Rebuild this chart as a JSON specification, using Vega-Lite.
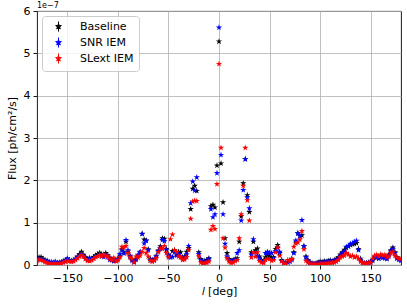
{
"$schema": "https://vega.github.io/schema/vega-lite/v6.json",
"autosize": {"type": "none"},
"padding": {"left": 37, "top": 11, "right": 6, "bottom": 40},
"width": 364,
"height": 254,
"background": "white",
"title": {"text": "1e−7", "anchor": "start", "frame": "group", "align": "left", "fontSize": 8, "fontWeight": "normal", "font": "DejaVu Sans", "offset": 0, "dy": 5, "color": "black"},
"data": {"values": [
{"l":-180,"k":0.14,"s":0.12,"r":0.10},{"l":-178,"k":0.18,"s":0.15,"r":0.13},{"l":-176,"k":0.19,"s":0.14,"r":0.12},{"l":-174,"k":0.15,"s":0.12,"r":0.10},{"l":-172,"k":0.11,"s":0.09,"r":0.07},{"l":-170,"k":0.09,"s":0.10,"r":0.05},{"l":-168,"k":0.07,"s":0.06,"r":0.04},{"l":-166,"k":0.05,"s":0.07,"r":0.03},{"l":-164,"k":0.05,"s":0.05,"r":0.03},{"l":-162,"k":0.06,"s":0.08,"r":0.04},{"l":-160,"k":0.05,"s":0.04,"r":0.03},{"l":-158,"k":0.06,"s":0.05,"r":0.03},{"l":-156,"k":0.07,"s":0.06,"r":0.04},{"l":-154,"k":0.09,"s":0.08,"r":0.06},{"l":-152,"k":0.11,"s":0.10,"r":0.08},{"l":-150,"k":0.13,"s":0.16,"r":0.10},{"l":-148,"k":0.12,"s":0.10,"r":0.09},{"l":-146,"k":0.10,"s":0.09,"r":0.08},{"l":-144,"k":0.11,"s":0.10,"r":0.09},{"l":-142,"k":0.15,"s":0.14,"r":0.12},{"l":-140,"k":0.20,"s":0.18,"r":0.16},{"l":-138,"k":0.26,"s":0.22,"r":0.20},{"l":-136,"k":0.31,"s":0.26,"r":0.24},{"l":-134,"k":0.24,"s":0.21,"r":0.20},{"l":-132,"k":0.18,"s":0.15,"r":0.14},{"l":-130,"k":0.13,"s":0.12,"r":0.10},{"l":-128,"k":0.12,"s":0.17,"r":0.09},{"l":-126,"k":0.15,"s":0.13,"r":0.11},{"l":-124,"k":0.19,"s":0.16,"r":0.15},{"l":-122,"k":0.23,"s":0.20,"r":0.19},{"l":-120,"k":0.26,"s":0.22,"r":0.21},{"l":-118,"k":0.29,"s":0.25,"r":0.24},{"l":-116,"k":0.25,"s":0.21,"r":0.20},{"l":-114,"k":0.22,"s":0.19,"r":0.25},{"l":-112,"k":0.28,"s":0.24,"r":0.22},{"l":-110,"k":0.23,"s":0.19,"r":0.21},{"l":-108,"k":0.17,"s":0.12,"r":0.15},{"l":-106,"k":0.13,"s":0.12,"r":0.11},{"l":-104,"k":0.10,"s":0.09,"r":0.17},{"l":-102,"k":0.11,"s":0.10,"r":0.09},{"l":-100,"k":0.15,"s":0.14,"r":0.11},{"l":-98,"k":0.22,"s":0.26,"r":0.18},{"l":-96,"k":0.38,"s":0.35,"r":0.43},{"l":-94,"k":0.30,"s":0.27,"r":0.41},{"l":-92,"k":0.55,"s":0.59,"r":0.45},{"l":-90,"k":0.32,"s":0.35,"r":0.28},{"l":-88,"k":0.22,"s":0.20,"r":0.18},{"l":-86,"k":0.12,"s":0.10,"r":0.15},{"l":-84,"k":0.08,"s":0.07,"r":0.06},{"l":-82,"k":0.14,"s":0.13,"r":0.20},{"l":-80,"k":0.22,"s":0.24,"r":0.17},{"l":-78,"k":0.30,"s":0.31,"r":0.22},{"l":-76,"k":0.74,"s":0.73,"r":0.31},{"l":-74,"k":0.60,"s":0.51,"r":0.40},{"l":-72,"k":0.58,"s":0.57,"r":0.28},{"l":-70,"k":0.37,"s":0.35,"r":0.20},{"l":-68,"k":0.15,"s":0.12,"r":0.10},{"l":-66,"k":0.10,"s":0.12,"r":0.08},{"l":-64,"k":0.14,"s":0.12,"r":0.10},{"l":-62,"k":0.22,"s":0.20,"r":0.16},{"l":-60,"k":0.34,"s":0.33,"r":0.30},{"l":-58,"k":0.44,"s":0.40,"r":0.39},{"l":-56,"k":0.63,"s":0.59,"r":0.38},{"l":-54,"k":0.62,"s":0.56,"r":0.45},{"l":-52,"k":0.38,"s":0.35,"r":0.28},{"l":-50,"k":0.25,"s":0.22,"r":0.18},{"l":-48,"k":0.20,"s":0.18,"r":0.61},{"l":-46,"k":0.33,"s":0.19,"r":0.72},{"l":-44,"k":0.35,"s":0.30,"r":0.35},{"l":-42,"k":0.25,"s":0.22,"r":0.30},{"l":-40,"k":0.31,"s":0.26,"r":0.20},{"l":-38,"k":0.30,"s":0.20,"r":0.18},{"l":-36,"k":0.18,"s":0.15,"r":0.12},{"l":-34,"k":0.20,"s":0.17,"r":0.13},{"l":-32,"k":0.31,"s":0.25,"r":0.18},{"l":-30,"k":0.40,"s":0.45,"r":0.35},{"l":-28,"k":1.32,"s":1.46,"r":1.09},{"l":-26,"k":1.80,"s":1.97,"r":1.50},{"l":-24,"k":1.87,"s":1.76,"r":1.52},{"l":-22,"k":1.75,"s":2.07,"r":1.51},{"l":-20,"k":0.30,"s":0.26,"r":0.20},{"l":-18,"k":0.14,"s":0.12,"r":0.06},{"l":-16,"k":0.08,"s":0.06,"r":0.03},{"l":-14,"k":0.10,"s":0.08,"r":0.04},{"l":-12,"k":0.12,"s":0.09,"r":0.05},{"l":-10,"k":0.16,"s":0.14,"r":0.08},{"l":-8,"k":1.39,"s":1.32,"r":0.83},{"l":-6,"k":1.42,"s":1.13,"r":0.92},{"l":-4,"k":1.36,"s":1.20,"r":0.85},{"l":-2,"k":2.35,"s":2.17,"r":1.91},{"l":0,"k":5.28,"s":5.61,"r":4.75},{"l":2,"k":2.40,"s":2.60,"r":2.77},{"l":4,"k":1.48,"s":1.20,"r":0.63},{"l":6,"k":0.63,"s":0.50,"r":0.41},{"l":8,"k":0.28,"s":0.20,"r":0.16},{"l":10,"k":0.14,"s":0.12,"r":0.08},{"l":12,"k":0.10,"s":0.08,"r":0.05},{"l":14,"k":0.12,"s":0.10,"r":0.06},{"l":16,"k":0.14,"s":0.13,"r":0.09},{"l":18,"k":0.16,"s":0.28,"r":0.12},{"l":20,"k":0.55,"s":0.35,"r":0.63},{"l":22,"k":1.15,"s":1.05,"r":1.20},{"l":24,"k":1.93,"s":1.77,"r":1.87},{"l":26,"k":2.50,"s":2.50,"r":2.77},{"l":28,"k":1.65,"s":1.60,"r":1.53},{"l":30,"k":1.25,"s":1.34,"r":1.05},{"l":32,"k":0.30,"s":0.25,"r":0.18},{"l":34,"k":0.55,"s":0.61,"r":0.30},{"l":36,"k":0.35,"s":0.30,"r":0.20},{"l":38,"k":0.39,"s":0.22,"r":0.30},{"l":40,"k":0.20,"s":0.16,"r":0.10},{"l":42,"k":0.12,"s":0.10,"r":0.06},{"l":44,"k":0.10,"s":0.08,"r":0.05},{"l":46,"k":0.18,"s":0.28,"r":0.12},{"l":48,"k":0.24,"s":0.31,"r":0.15},{"l":50,"k":0.20,"s":0.29,"r":0.14},{"l":52,"k":0.16,"s":0.28,"r":0.10},{"l":54,"k":0.18,"s":0.16,"r":0.12},{"l":56,"k":0.38,"s":0.33,"r":0.30},{"l":58,"k":0.47,"s":0.40,"r":0.42},{"l":60,"k":0.28,"s":0.31,"r":0.22},{"l":62,"k":0.12,"s":0.10,"r":0.09},{"l":64,"k":0.06,"s":0.05,"r":0.04},{"l":66,"k":0.05,"s":0.04,"r":0.03},{"l":68,"k":0.07,"s":0.06,"r":0.12},{"l":70,"k":0.10,"s":0.08,"r":0.10},{"l":72,"k":0.15,"s":0.12,"r":0.14},{"l":74,"k":0.30,"s":0.28,"r":0.43},{"l":76,"k":0.55,"s":0.58,"r":0.51},{"l":78,"k":0.75,"s":0.75,"r":0.53},{"l":80,"k":0.68,"s":0.69,"r":0.60},{"l":82,"k":0.70,"s":1.06,"r":0.80},{"l":84,"k":0.44,"s":0.45,"r":0.37},{"l":86,"k":0.20,"s":0.18,"r":0.10},{"l":88,"k":0.12,"s":0.10,"r":0.06},{"l":90,"k":0.06,"s":0.05,"r":0.03},{"l":92,"k":0.04,"s":0.03,"r":0.02},{"l":94,"k":0.03,"s":0.03,"r":0.02},{"l":96,"k":0.04,"s":0.03,"r":0.02},{"l":98,"k":0.06,"s":0.05,"r":0.02},{"l":100,"k":0.08,"s":0.06,"r":0.03},{"l":102,"k":0.07,"s":0.05,"r":0.02},{"l":104,"k":0.09,"s":0.07,"r":0.03},{"l":106,"k":0.08,"s":0.06,"r":0.03},{"l":108,"k":0.10,"s":0.08,"r":0.04},{"l":110,"k":0.11,"s":0.09,"r":0.04},{"l":112,"k":0.09,"s":0.07,"r":0.05},{"l":114,"k":0.12,"s":0.10,"r":0.06},{"l":116,"k":0.14,"s":0.11,"r":0.08},{"l":118,"k":0.18,"s":0.15,"r":0.12},{"l":120,"k":0.25,"s":0.22,"r":0.18},{"l":122,"k":0.30,"s":0.27,"r":0.20},{"l":124,"k":0.36,"s":0.32,"r":0.22},{"l":126,"k":0.41,"s":0.43,"r":0.28},{"l":128,"k":0.45,"s":0.44,"r":0.25},{"l":130,"k":0.47,"s":0.50,"r":0.20},{"l":132,"k":0.49,"s":0.51,"r":0.22},{"l":134,"k":0.50,"s":0.55,"r":0.18},{"l":136,"k":0.52,"s":0.57,"r":0.20},{"l":138,"k":0.38,"s":0.35,"r":0.15},{"l":140,"k":0.15,"s":0.12,"r":0.08},{"l":142,"k":0.06,"s":0.05,"r":0.04},{"l":144,"k":0.04,"s":0.04,"r":0.03},{"l":146,"k":0.05,"s":0.04,"r":0.03},{"l":148,"k":0.06,"s":0.05,"r":0.04},{"l":150,"k":0.08,"s":0.07,"r":0.05},{"l":152,"k":0.12,"s":0.10,"r":0.15},{"l":154,"k":0.18,"s":0.20,"r":0.22},{"l":156,"k":0.20,"s":0.18,"r":0.24},{"l":158,"k":0.16,"s":0.15,"r":0.20},{"l":160,"k":0.22,"s":0.18,"r":0.25},{"l":162,"k":0.20,"s":0.17,"r":0.22},{"l":164,"k":0.18,"s":0.16,"r":0.24},{"l":166,"k":0.16,"s":0.14,"r":0.18},{"l":168,"k":0.25,"s":0.22,"r":0.20},{"l":170,"k":0.35,"s":0.33,"r":0.28},{"l":172,"k":0.41,"s":0.38,"r":0.31},{"l":174,"k":0.30,"s":0.28,"r":0.22},{"l":176,"k":0.18,"s":0.15,"r":0.17},{"l":178,"k":0.14,"s":0.12,"r":0.15},{"l":180,"k":0.12,"s":0.10,"r":0.14}
]},
"encoding": {
  "x": {"field": "l", "type": "quantitative", "scale": {"domain": [-180, 180], "nice": false, "zero": false},
        "axis": {"values": [-150, -100, -50, 0, 50, 100, 150], "title": "𝑙 [deg]", "titlePadding": 2}}
},
"layer": [
  {"mark": {"type": "point", "filled": true, "opacity": 1, "size": 44, "clip": true, "shape": "M0,-1L0.2245,-0.309L0.951,-0.309L0.363,0.118L0.588,0.809L0,0.382L-0.588,0.809L-0.363,0.118L-0.951,-0.309L-0.2245,-0.309Z"},
   "encoding": {
     "y": {"field": "k", "type": "quantitative", "scale": {"domain": [0, 6], "nice": false}, "axis": {"values": [0,1,2,3,4,5,6], "title": "Flux [ph/cm²/s]", "titlePadding": 6}},
     "color": {"datum": "Baseline", "type": "nominal",
       "scale": {"domain": ["Baseline", "SNR IEM", "SLext IEM"], "range": ["#000000", "#0000ff", "#ff0000"]},
       "legend": {"title": null,
         "encode": {"symbols": {"update": {"stroke": {"scale": "color", "field": "value"}, "fill": {"scale": "color", "field": "value"}, "strokeWidth": {"value": 1}}}}}}
   }},
  {"mark": {"type": "point", "filled": true, "opacity": 1, "size": 44, "clip": true, "shape": "M0,-1L0.2245,-0.309L0.951,-0.309L0.363,0.118L0.588,0.809L0,0.382L-0.588,0.809L-0.363,0.118L-0.951,-0.309L-0.2245,-0.309Z"},
   "encoding": {
     "y": {"field": "s", "type": "quantitative", "title": "Flux [ph/cm²/s]"},
     "color": {"datum": "SNR IEM", "type": "nominal"}
   }},
  {"mark": {"type": "point", "filled": true, "opacity": 1, "size": 44, "clip": true, "shape": "M0,-1L0.2245,-0.309L0.951,-0.309L0.363,0.118L0.588,0.809L0,0.382L-0.588,0.809L-0.363,0.118L-0.951,-0.309L-0.2245,-0.309Z"},
   "encoding": {
     "y": {"field": "r", "type": "quantitative", "title": "Flux [ph/cm²/s]"},
     "color": {"datum": "SLext IEM", "type": "nominal"}
   }}
],
"config": {
  "font": "DejaVu Sans",
  "view": {"stroke": "black", "strokeWidth": 0.9},
  "axis": {"domain": false, "grid": true, "gridColor": "#b0b0b0", "gridWidth": 0.8, "tickColor": "black", "tickSize": 4, "tickWidth": 0.9,
           "labelFont": "DejaVu Sans", "labelFontSize": 11, "labelColor": "black", "labelPadding": 3, "labelFlush": false,
           "titleFont": "DejaVu Sans", "titleFontSize": 11, "titleFontWeight": "normal", "titleColor": "black"},
  "legend": {"orient": "top-left", "offset": 5, "padding": 5, "strokeColor": "#cccccc", "fillColor": "rgba(255,255,255,0.8)", "cornerRadius": 3,
             "labelFont": "DejaVu Sans", "labelFontSize": 11, "labelColor": "black", "labelLimit": 200,
             "symbolType": "M0,-1L0,1M0,-0.6L0.1347,-0.1854L0.5706,-0.1854L0.2178,0.0708L0.3528,0.4854L0,0.2292L-0.3528,0.4854L-0.2178,0.0708L-0.5706,-0.1854L-0.1347,-0.1854Z",
             "symbolSize": 100, "symbolStrokeWidth": 1, "symbolOffset": 6, "labelOffset": 16, "rowPadding": 1, "symbolOpacity": 1}
}
}
